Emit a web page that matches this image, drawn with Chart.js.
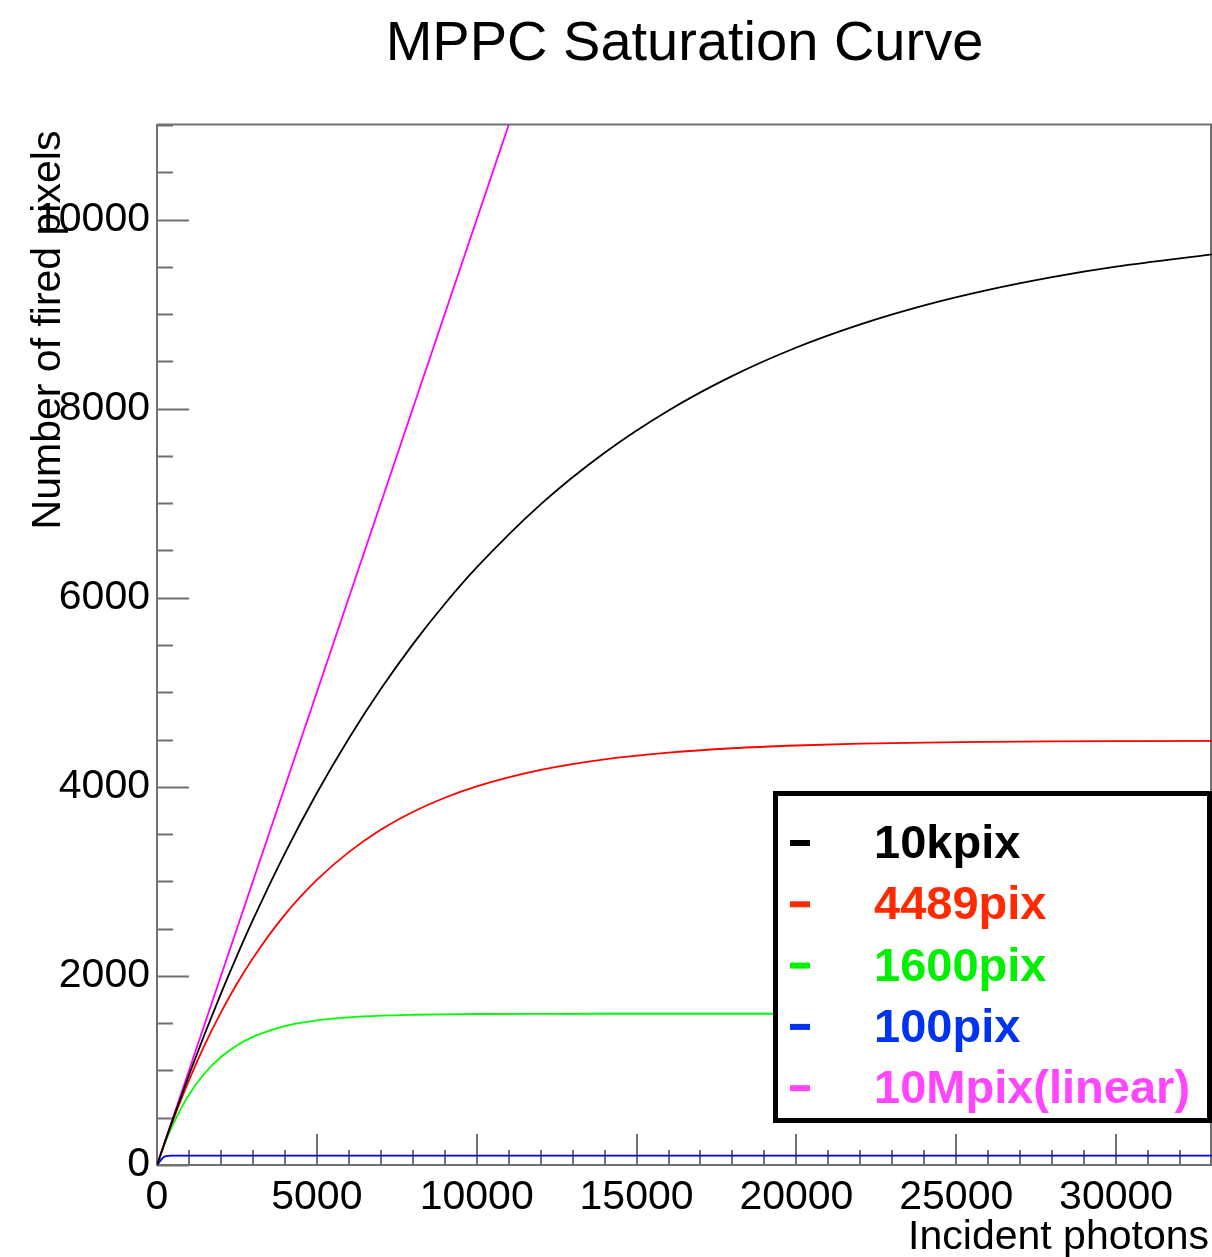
<!DOCTYPE html>
<html>
<head>
<meta charset="utf-8">
<title>MPPC Saturation Curve</title>
<script src="https://cdn.jsdelivr.net/npm/chart.js@4.4.1/dist/chart.umd.min.js"></script>
<style>
  html, body { margin: 0; padding: 0; background: #fff; }
  #wrap { width: 1212px; height: 1257px; }
</style>
</head>
<body>
<div id="wrap"><canvas id="myChart" width="1212" height="1257"></canvas></div>
<script>
// --- DATOS ---
const photons = [0, 250, 500, 1000, 1500, 2000, 2500, 3000, 4000, 5000, 6000, 7000, 8000, 9000,
  10000, 12000, 14000, 16000, 18000, 20000, 22000, 24000, 26000, 28000, 30000, 33000];
const pix10k = [0, 247, 488, 952, 1393, 1813, 2212, 2592, 3297, 3935, 4512, 5034, 5507, 5934,
  6321, 6988, 7534, 7981, 8347, 8647, 8892, 9093, 9257, 9392, 9502, 9631];
const pix4489 = [0, 243, 473, 896, 1275, 1614, 1917, 2188, 2648, 3015, 3309, 3545, 3733, 3884,
  4005, 4179, 4291, 4362, 4408, 4437, 4456, 4468, 4475, 4480, 4483, 4486];
const pix1600 = [0, 232, 429, 744, 973, 1142, 1265, 1355, 1469, 1530, 1562, 1580, 1589, 1594,
  1597, 1599, 1600, 1600, 1600, 1600, 1600, 1600, 1600, 1600, 1600, 1600];
const pix100 = [0, 92, 99, 100, 100, 100, 100, 100, 100, 100, 100, 100, 100, 100,
  100, 100, 100, 100, 100, 100, 100, 100, 100, 100, 100, 100];
const linearPhotons = [0, 12000];
const pix10M = [0, 12000];

const seriesNames = ["10kpix", "4489pix", "1600pix", "100pix", "10Mpix(linear)"];
const xTickLabels = [0, 5000, 10000, 15000, 20000, 25000, 30000];
const yTickLabels = [0, 2000, 4000, 6000, 8000, 10000];

// --- ESTILO ---
const FONT = "'Liberation Sans', Arial, Helvetica, sans-serif";
const lineColors = ["#000000", "#ff0000", "#00ff00", "#0000ff", "#ff00ff"];
const legendColors = ["#000000", "#ff2a00", "#00f000", "#0033f0", "#ff46ff"];

const toPoints = (xs, ys) => xs.map((x, i) => ({ x: x, y: ys[i] }));

const serie = (name, xs, ys, color) => ({
  label: name,
  data: toPoints(xs, ys),
  borderColor: color,
  borderWidth: 1.8,
  pointRadius: 0,
  fill: false,
  cubicInterpolationMode: "monotone",
});

// marcas, titulos y leyenda al estilo ROOT
const rootFrame = {
  id: "rootFrame",
  beforeDatasetsDraw(chart) {
    const { ctx, chartArea: a, scales } = chart;
    ctx.save();
    ctx.strokeStyle = "#707070";
    ctx.lineWidth = 2;
    ctx.beginPath();
    for (let v = 0; v <= 11000; v += 500) {
      const y = Math.round(scales.y.getPixelForValue(v)) + 0.5;
      const len = v % 2000 === 0 ? 32 : 16;
      ctx.moveTo(a.left, y);
      ctx.lineTo(a.left + len, y);
    }
    for (let v = 0; v <= 33000; v += 1000) {
      const x = Math.round(scales.x.getPixelForValue(v));
      const len = v % 5000 === 0 ? 31 : 15;
      ctx.moveTo(x, a.bottom);
      ctx.lineTo(x, a.bottom - len);
    }
    ctx.stroke();
    // marco superior y derecho
    ctx.beginPath();
    ctx.moveTo(a.left, a.top - 0.5);
    ctx.lineTo(a.right - 1, a.top - 0.5);
    ctx.lineTo(a.right - 1, a.bottom);
    ctx.stroke();
    ctx.restore();
  },
  afterDraw(chart) {
    const { ctx, chartArea: a } = chart;
    ctx.save();
    ctx.fillStyle = "#000";

    // titulo
    ctx.font = "56px " + FONT;
    ctx.textAlign = "center";
    ctx.textBaseline = "alphabetic";
    ctx.fillText("MPPC Saturation Curve", (a.left + a.right) / 2, 60);

    // titulo eje x
    ctx.font = "41px " + FONT;
    ctx.textAlign = "right";
    ctx.fillText("Incident photons", 1209, 1249);

    // titulo eje y
    ctx.save();
    ctx.translate(60, 330);
    ctx.rotate(-Math.PI / 2);
    ctx.textAlign = "center";
    ctx.fillText("Number of fired pixels", 0, 0);
    ctx.restore();

    // leyenda
    ctx.fillStyle = "#fff";
    ctx.fillRect(775, 793, 434, 328);
    ctx.strokeStyle = "#000";
    ctx.lineWidth = 5;
    ctx.strokeRect(775.5, 793.5, 434, 327);
    ctx.font = "bold 47px " + FONT;
    ctx.textAlign = "left";
    chart.data.datasets.forEach((ds, i) => {
      const y = 843 + i * 61.3;
      ctx.fillStyle = legendColors[i];
      ctx.fillRect(790, y - 3, 20, 6);
      ctx.fillText(ds.label, 874, y + 15);
    });
    ctx.restore();
  },
};

const ctx = document.getElementById("myChart").getContext("2d");

new Chart(ctx, {
  type: "line",
  data: {
    datasets: [
      serie(seriesNames[0], photons, pix10k, lineColors[0]),
      serie(seriesNames[1], photons, pix4489, lineColors[1]),
      serie(seriesNames[2], photons, pix1600, lineColors[2]),
      serie(seriesNames[3], photons, pix100, lineColors[3]),
      serie(seriesNames[4], linearPhotons, pix10M, lineColors[4]),
    ],
  },
  options: {
    responsive: false,
    animation: false,
    layout: { padding: { top: 125, right: 0, bottom: 0, left: 0 } },
    plugins: {
      legend: { display: false },
      title: { display: false },
      tooltip: { enabled: false },
    },
    scales: {
      x: {
        type: "linear",
        min: 0,
        max: 33000,
        afterBuildTicks: (s) => { s.ticks = xTickLabels.map((v) => ({ value: v })); },
        afterFit: (s) => { s.height = 92; },
        grid: { display: false, drawTicks: false },
        border: { display: true, color: "#707070", width: 2 },
        ticks: {
          color: "#000",
          font: { size: 41, family: FONT },
          padding: 8,
          maxRotation: 0,
          autoSkip: false,
          callback: (v) => String(v),
        },
      },
      y: {
        type: "linear",
        min: 0,
        max: 11000,
        afterBuildTicks: (s) => { s.ticks = yTickLabels.map((v) => ({ value: v })); },
        afterFit: (s) => { s.width = 157; },
        grid: { display: false, drawTicks: false },
        border: { display: true, color: "#707070", width: 2 },
        ticks: {
          color: "#000",
          font: { size: 41, family: FONT },
          padding: 7,
          autoSkip: false,
          callback: (v) => String(v),
        },
      },
    },
  },
  plugins: [rootFrame],
});
</script>
</body>
</html>
